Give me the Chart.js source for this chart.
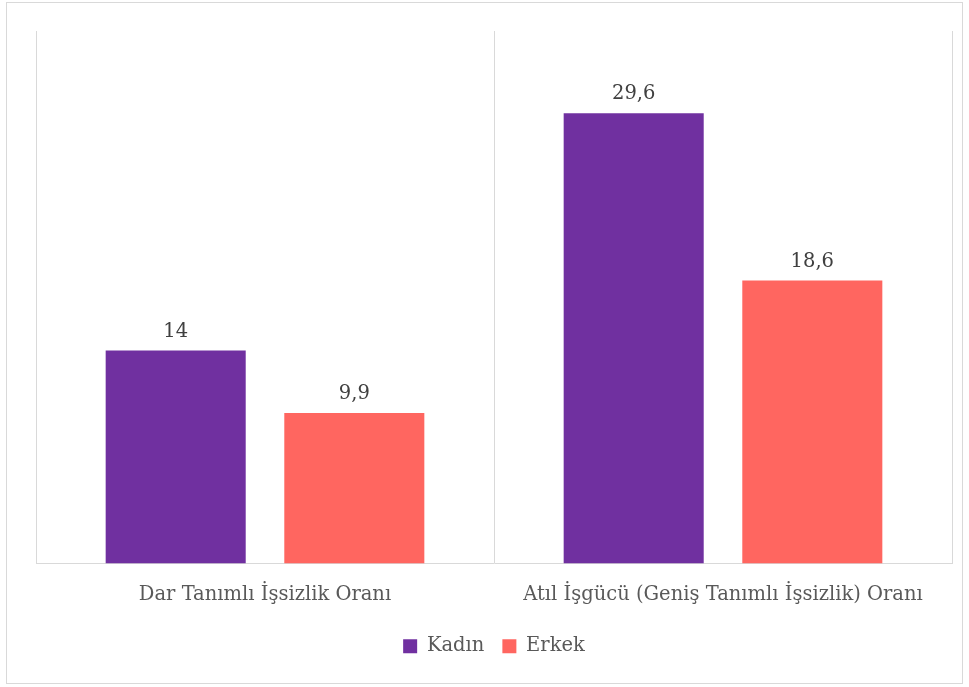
<!DOCTYPE html>
<html>
<head>
<meta charset="utf-8">
<script src="https://cdn.jsdelivr.net/npm/chart.js@4.4.0/dist/chart.umd.js"></script>
<style>
  body { margin: 0; background: #fff; }
  #wrap { position: relative; width: 969px; height: 687px; }
  #frame { position: absolute; left: 6px; top: 2px; width: 955px; height: 680px; border: 1px solid #d9d9d9; pointer-events: none; }
</style>
</head>
<body>
<div id="wrap">
  <canvas id="c" width="969" height="687"></canvas>
  <div id="frame"></div>
</div>
<script>
// veriler
const categories = ['Dar Tanımlı İşsizlik Oranı', 'Atıl İşgücü (Geniş Tanımlı İşsizlik) Oranı'];
const kadin = [14, 29.6];
const erkek = [9.9, 18.6];
const seriesNames = ['Kadın', 'Erkek'];

const FONT = "'DejaVu Serif', 'Liberation Serif', serif";
const FSIZE = 19.5;

// bar üstü değer etiketleri
const valueLabels = {
  id: 'valueLabels',
  afterDatasetsDraw(chart) {
    const ctx = chart.ctx;
    ctx.save();
    ctx.font = FSIZE + 'px ' + FONT;
    ctx.fillStyle = '#404040';
    ctx.textAlign = 'center';
    ctx.textBaseline = 'alphabetic';
    chart.data.datasets.forEach((ds, i) => {
      chart.getDatasetMeta(i).data.forEach((bar, j) => {
        const txt = String(ds.data[j]).replace('.', ',');
        ctx.fillText(txt, bar.x, bar.y - 14);
      });
    });
    ctx.restore();
  }
};

new Chart(document.getElementById('c').getContext('2d'), {
  type: 'bar',
  data: {
    labels: categories,
    datasets: [
      { label: seriesNames[0], data: kadin, backgroundColor: '#7030a0', categoryPercentage: 0.78, barPercentage: 0.784 },
      { label: seriesNames[1], data: erkek, backgroundColor: '#ff6660', categoryPercentage: 0.78, barPercentage: 0.784 }
    ]
  },
  options: {
    responsive: false,
    animation: false,
    layout: { padding: { left: 36, right: 17, top: 31, bottom: 21 } },
    scales: {
      x: {
        grid: { color: '#d9d9d9', drawTicks: false, offset: true },
        border: { color: '#d9d9d9' },
        ticks: { color: '#595959', font: { family: FONT, size: FSIZE }, padding: 20 },
        afterFit(scale) { scale.height = 55; }
      },
      y: {
        display: false,
        min: 0,
        max: 35
      }
    },
    plugins: {
      legend: {
        position: 'bottom',
        labels: {
          color: '#595959',
          font: { family: FONT, size: FSIZE },
          boxWidth: 14,
          boxHeight: 14,
          padding: 18
        }
      },
      tooltip: { enabled: false }
    }
  },
  plugins: [valueLabels]
});
</script>
</body>
</html>
